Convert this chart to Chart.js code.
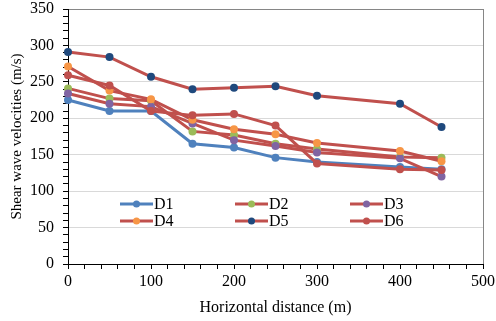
<!DOCTYPE html>
<html>
<head>
<meta charset="utf-8">
<script src="https://cdn.jsdelivr.net/npm/chart.js@4"></script>
<style>
  html, body { margin: 0; padding: 0; background: #fff; }
  #wrap { width: 496px; height: 321px; }
</style>
</head>
<body>
<div id="wrap"><canvas id="chart" width="496" height="321"></canvas></div>
<script>
// horizontal distance (m)
var distances = [0, 50, 100, 150, 200, 250, 300, 400, 450]

var seriesNames = ['D1', 'D2', 'D3', 'D4', 'D5', 'D6']
var d1 = [225, 210, 210, 165, 160, 146, 140, 133, 130]
var d2 = [241, 227, 224, 182, 177, 165, 158, 147, 146]
var d3 = [234, 220, 216, 193, 170, 162, 153, 145, 120]
var d4 = [271, 238, 226, 198, 185, 178, 166, 155, 141]
var d5 = [291, 284, 257, 240, 242, 244, 231, 220, 188]
var d6 = [259, 245, 210, 204, 206, 190, 138, 130, 129]

var lineColors = ['#4F81BD', '#C0504D', '#C0504D', '#C0504D', '#C0504D', '#C0504D']
var markerColors = ['#4F81BD', '#9BBB59', '#8064A2', '#F79646', '#1F497D', '#C0504D']

var FONT = 'Liberation Serif'

function toPoints(values) {
    return values.map(function(v, i) { return { x: distances[i], y: v } })
}

var allValues = [d1, d2, d3, d4, d5, d6]
var datasets = []
for (var i = 0; i < allValues.length; i++) {
    datasets.push({
        label: seriesNames[i],
        data: toPoints(allValues[i]),
        borderColor: lineColors[i],
        backgroundColor: markerColors[i],
        pointBackgroundColor: markerColors[i],
        pointBorderColor: markerColors[i],
        pointRadius: 4,
        pointBorderWidth: 0,
        borderWidth: 3,
        tension: 0,
        clip: false,
        order: allValues.length - i   // later series on top, like Excel
    })
}

// legend drawn inside the plot area, 3 columns x 2 rows
var insideLegend = {
    id: 'insideLegend',
    afterDatasetsDraw: function(chart) {
        var c = chart.ctx
        var area = chart.chartArea
        c.save()
        chart.data.datasets.forEach(function(ds, i) {
            var col = i % 3
            var row = Math.floor(i / 3)
            var x0 = area.left + 52 + col * 115
            var y = area.top + 195 + row * 17
            c.strokeStyle = ds.borderColor
            c.lineWidth = 3
            c.beginPath()
            c.moveTo(x0, y)
            c.lineTo(x0 + 33, y)
            c.stroke()
            c.fillStyle = ds.pointBackgroundColor
            c.beginPath()
            c.arc(x0 + 16.5, y, 3.5, 0, Math.PI * 2)
            c.fill()
            c.fillStyle = '#000'
            c.font = '16px "' + FONT + '"'
            c.textBaseline = 'middle'
            c.textAlign = 'left'
            c.fillText(ds.label, x0 + 34, y + 1)
        })
        c.restore()
    }
}

var ctx = document.getElementById('chart').getContext('2d')
var myChart = new Chart(ctx, {
    type: 'line',
    data: { datasets: datasets },
    plugins: [insideLegend],
    options: {
        responsive: false,
        animation: false,
        layout: { padding: { top: 0, right: 0, left: 8, bottom: 0 } },
        plugins: {
            legend: { display: false },
            tooltip: { enabled: false }
        },
        scales: {
            x: {
                type: 'linear',
                min: 0,
                max: 500,
                ticks: {
                    stepSize: 20,
                    autoSkip: false,
                    maxRotation: 0,
                    padding: 3,
                    color: '#000',
                    font: { family: FONT, size: 16 },
                    callback: function(v) { return v % 100 === 0 ? v : '' }
                },
                grid: {
                    color: function(c) { return c.tick && c.tick.value === 500 ? '#868686' : 'rgba(0,0,0,0)' },
                    tickColor: '#000',
                    tickLength: 5,
                    lineWidth: 1
                },
                border: { color: '#000', width: 1 },
                title: {
                    display: true,
                    text: 'Horizontal distance (m)',
                    color: '#000',
                    font: { family: FONT, size: 16 },
                    padding: { top: 4, bottom: 4 }
                },
                afterFit: function(scale) {
                    scale.height = 57
                    scale.paddingRight = 13
                }
            },
            y: {
                min: 0,
                max: 350,
                ticks: {
                    stepSize: 10,
                    autoSkip: false,
                    padding: 9,
                    color: '#000',
                    font: { family: FONT, size: 16 },
                    callback: function(v) { return v % 50 === 0 ? v : '' }
                },
                grid: {
                    color: function(c) {
                        if (!c.tick) return 'rgba(0,0,0,0)'
                        if (c.tick.value === 350) return '#868686'
                        return c.tick.value % 50 === 0 ? '#D9D9D9' : 'rgba(0,0,0,0)'
                    },
                    tickColor: '#000',
                    tickLength: 5,
                    lineWidth: 1
                },
                border: { color: '#000', width: 1 },
                title: {
                    display: true,
                    text: 'Shear wave velocities (m/s)',
                    color: '#000',
                    font: { family: FONT, size: 15 },
                    padding: { top: 0, bottom: 0 }
                },
                afterFit: function(scale) {
                    scale.width = 60
                    scale.paddingTop = 9
                }
            }
        }
    }
})
</script>
</body>
</html>
